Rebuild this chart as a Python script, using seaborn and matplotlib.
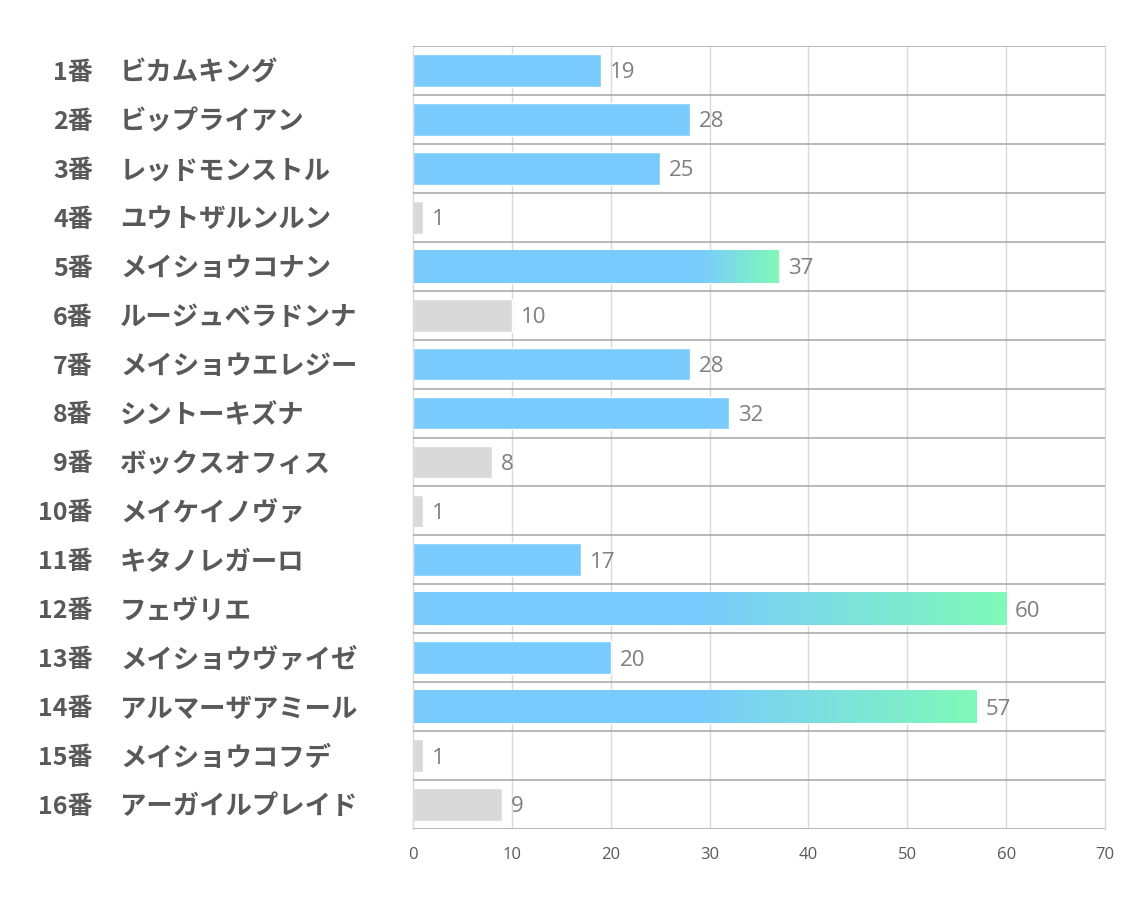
import numpy as np
import pandas as pd
import matplotlib
matplotlib.use("Agg")
import matplotlib.pyplot as plt
import seaborn as sns
from matplotlib.colors import to_rgba
from matplotlib.transforms import blended_transform_factory

numbers = ["1番", "2番", "3番", "4番", "5番", "6番", "7番", "8番",
           "9番", "10番", "11番", "12番", "13番", "14番", "15番", "16番"]
names = ["ビカムキング", "ビップライアン", "レッドモンストル", "ユウトザルンルン",
         "メイショウコナン", "ルージュベラドンナ", "メイショウエレジー", "シントーキズナ",
         "ボックスオフィス", "メイケイノヴァ", "キタノレガーロ", "フェヴリエ",
         "メイショウヴァイゼ", "アルマーザアミール", "メイショウコフデ", "アーガイルプレイド"]
values = [19, 28, 25, 1, 37, 10, 28, 32, 8, 1, 17, 60, 20, 57, 1, 9]
xticks = [0, 10, 20, 30, 40, 50, 60, 70]

BLUE = "#79CBFD"
GRAY = "#D9D9D9"
GREEN = "#80F9B9"
LABEL_C = "#595959"
VALUE_C = "#7F7F7F"

sns.set_theme(style="white")
plt.rcParams["font.family"] = ["Noto Sans CJK JP", "DejaVu Sans"]

df = pd.DataFrame({"key": [f"{n} {m}" for n, m in zip(numbers, names)], "value": values})
colors = [GRAY if v <= 10 else BLUE for v in values]

fig = plt.figure(figsize=(11.34, 9.07), dpi=100)
ax = fig.add_axes([413 / 1134, 1 - 829 / 907, (1105 - 413) / 1134, (829 - 46) / 907])

sns.barplot(data=df, x="value", y="key", hue="key", palette=colors, legend=False,
            orient="h", width=0.67, ax=ax, saturation=1)

ax.set_xlim(0, 70)
ax.set_ylim(len(values) - 0.5, -0.5)

# gradient for the top bars
grad_start = 29
for p, v in zip(ax.patches, values):
    if v > 35:
        n = 400
        xs = np.linspace(0, v, n)
        t = np.clip((xs - grad_start) / (v - grad_start), 0, 1)
        c0 = np.array(to_rgba(BLUE))
        c1 = np.array(to_rgba(GREEN))
        img = (c0[None, :] * (1 - t[:, None]) + c1[None, :] * t[:, None])[None, :, :]
        y0 = p.get_y()
        y1 = y0 + p.get_height()
        im = ax.imshow(img, extent=[0, v, y1, y0], aspect="auto", zorder=p.get_zorder() + 0.1,
                       interpolation="bilinear")
        im.set_clip_path(p)
ax.set_xlim(0, 70)
ax.set_ylim(len(values) - 0.5, -0.5)
ax.set_aspect("auto")

# grid lines
for x in xticks[1:-1]:
    ax.axvline(x, color="#D9D9D9", lw=1, zorder=0.5)
for y in np.arange(-0.5, len(values), 1.0):
    ax.axhline(y, color="#A6A6A6", lw=1.1, zorder=3)

for side in ["left", "right"]:
    ax.spines[side].set_color("#D9D9D9")
    ax.spines[side].set_linewidth(1)
for side in ["top", "bottom"]:
    ax.spines[side].set_visible(False)

# value labels
for i, v in enumerate(values):
    ax.text(v + 0.9, i + 0.05, str(v), va="center", ha="left", fontsize=16,
            color=VALUE_C, family=["Open Sans", "DejaVu Sans"])

# y labels
ax.set_yticks(range(len(values)))
ax.set_yticklabels([])
ax.set_ylabel("")
ax.set_xlabel("")
ax.tick_params(axis="y", length=0)
trans = blended_transform_factory(fig.transFigure, ax.transData)
for i, (n, m) in enumerate(zip(numbers, names)):
    ax.text(93 / 1134, i + 0.05, n, transform=trans, ha="right", va="center",
            fontsize=18, fontweight="bold", color=LABEL_C, clip_on=False)
    ax.text(120 / 1134, i + 0.05, m, transform=trans, ha="left", va="center",
            fontsize=19, fontweight="bold", color=LABEL_C, clip_on=False)

ax.set_xticks(xticks)
ax.set_xticklabels([str(t) for t in xticks], fontsize=12, color=LABEL_C,
                   family=["Open Sans", "DejaVu Sans"])
ax.tick_params(axis="x", length=0, pad=13)

fig.savefig("out.png", dpi=100)
